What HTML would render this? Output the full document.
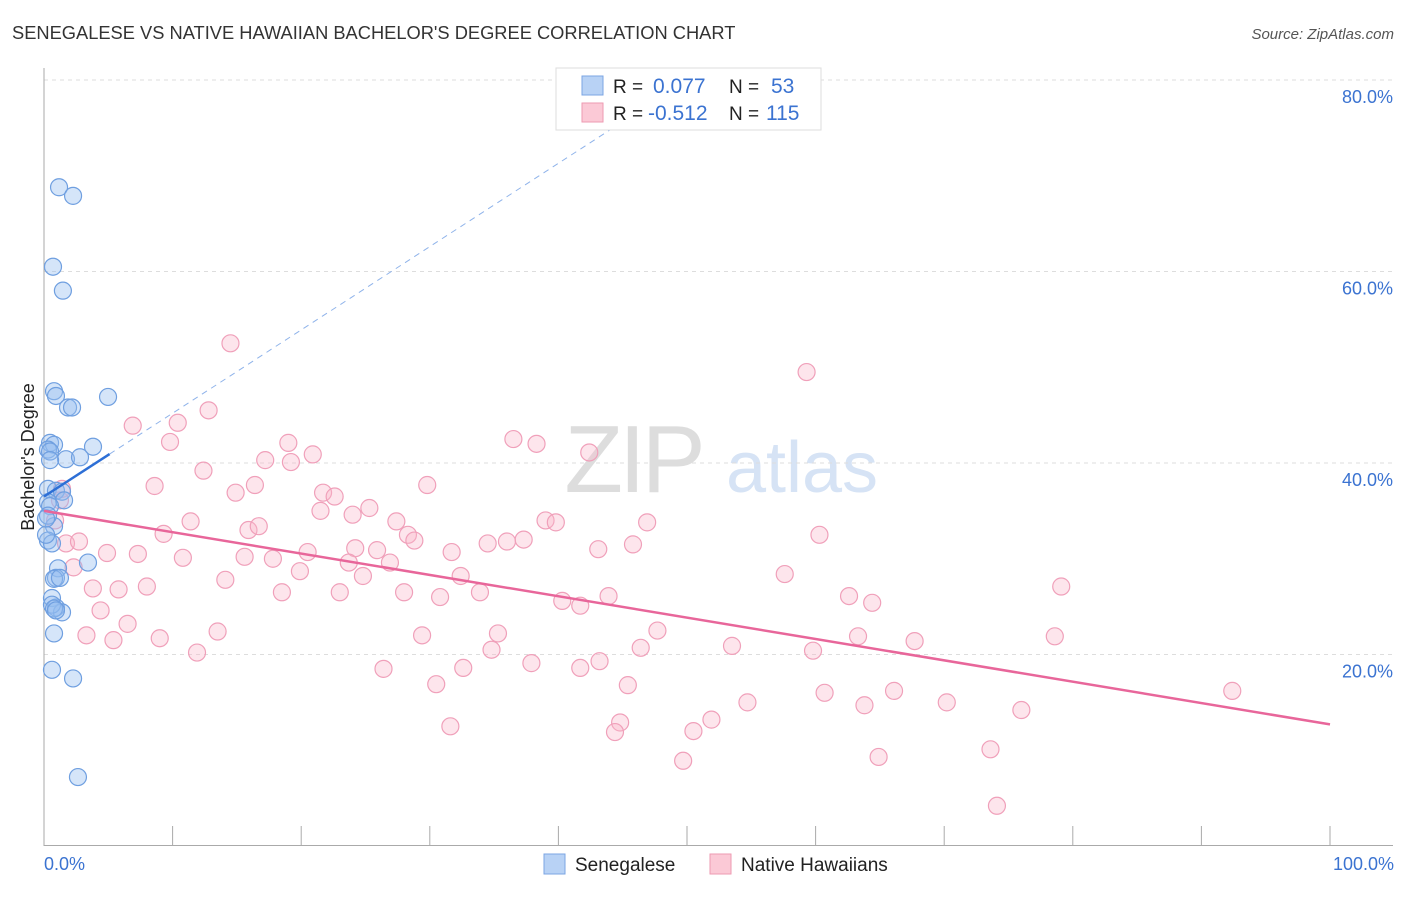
<!DOCTYPE html>
<html><head><meta charset="utf-8"><style>
body{margin:0;background:#fff;font-family:"Liberation Sans",sans-serif;}
svg text{font-family:"Liberation Sans",sans-serif;}
</style></head><body>
<svg id="c" width="1406" height="892" viewBox="0 0 1406 892" xmlns="http://www.w3.org/2000/svg">
<text x="12" y="39" font-size="18.3" fill="#333">SENEGALESE VS NATIVE HAWAIIAN BACHELOR'S DEGREE CORRELATION CHART</text>
<text x="1394" y="39" font-size="15" fill="#555" font-style="italic" text-anchor="end">Source: ZipAtlas.com</text>
<g>
<text x="633" y="492" font-size="96" fill="#ddd" text-anchor="middle" font-family="Liberation Serif" letter-spacing="-4">ZIP</text>
<text x="802" y="492" font-size="72" fill="#d6e3f5" text-anchor="middle">atlas</text>
</g>
<g id="grid"></g>
<g id="axes"></g>
<g id="pts"></g>
<g id="lines"></g>
<text transform="translate(34,457) rotate(-90)" font-size="18" fill="#222" text-anchor="middle">Bachelor's Degree</text>
<text x="44" y="870" font-size="18" fill="#3b73d1">0.0%</text>
<text x="1394" y="870" font-size="18" fill="#3b73d1" text-anchor="end">100.0%</text>
<g>
<rect x="556" y="68" width="265" height="62" fill="#fff" stroke="#ddd"/>
<rect x="582" y="76" width="21" height="19" fill="#b8d2f5" stroke="#7ba5e3"/>
<rect x="582" y="103" width="21" height="19" fill="#fbc9d6" stroke="#ee9ab2"/>
<text x="613" y="93" font-size="19" fill="#222">R =</text><text x="653" y="93" font-size="21" fill="#3b73d1">0.077</text>
<text x="729" y="93" font-size="19" fill="#222">N =</text><text x="771" y="93" font-size="21" fill="#3b73d1">53</text>
<text x="613" y="120" font-size="19" fill="#222">R =</text><text x="648" y="120" font-size="21" fill="#3b73d1">-0.512</text>
<text x="729" y="120" font-size="19" fill="#222">N =</text><text x="766" y="120" font-size="21" fill="#3b73d1">115</text>
</g>
<g>
<rect x="544" y="854" width="21" height="20" fill="#b8d2f5" stroke="#7ba5e3"/>
<text x="575" y="871" font-size="19" fill="#222">Senegalese</text>
<rect x="710" y="854" width="21" height="20" fill="#fbc9d6" stroke="#ee9ab2"/>
<text x="741" y="871" font-size="19" fill="#222">Native Hawaiians</text>
</g>
</svg>
<script>
const yTicks=[20,40,60,80];
const yTickLabels=["20.0%","40.0%","60.0%","80.0%"];
const xTicks=[10,20,30,40,50,60,70,80,90,100];
const blueX=[1.17,2.26,0.70,1.47,0.78,0.93,1.87,2.18,4.98,0.47,0.78,3.81,0.31,0.47,1.71,2.80,0.31,0.93,1.40,1.56,0.31,0.47,0.78,0.31,0.31,0.62,3.42,1.09,0.93,0.78,1.24,0.62,0.93,1.40,0.62,0.78,0.93,0.78,0.62,2.26,2.64,0.16,0.47,0.16];
const blueY=[68.8,67.9,60.5,58.0,47.5,47.0,45.8,45.8,46.9,42.1,41.9,41.7,41.4,41.2,40.4,40.6,37.3,37.1,37.0,36.1,35.9,35.5,33.4,34.5,31.9,31.6,29.6,29.0,28.0,27.9,28.0,25.9,24.9,24.4,25.2,24.8,24.6,22.2,18.4,17.5,7.2,32.5,40.3,34.2];
const pinkX=[14.5,59.3,6.9,10.4,12.8,36.5,42.4,38.3,9.8,19.0,20.9,17.2,19.2,12.4,29.8,8.6,14.9,16.4,21.7,22.6,25.3,24.0,21.5,15.9,16.7,11.4,9.3,27.4,28.3,28.8,39.0,39.8,46.9,60.3,4.9,7.3,10.8,15.6,17.8,20.5,24.2,25.9,31.7,34.5,36.0,37.3,43.1,45.8,26.9,23.7,24.8,32.4,14.1,19.9,57.6,3.8,5.8,8.0,2.3,18.5,23.0,28.0,30.8,33.9,40.3,41.7,43.9,62.6,64.4,79.1,4.4,6.5,29.4,35.3,47.7,3.3,5.4,9.0,13.5,11.9,34.8,46.4,53.5,59.8,63.3,67.7,78.6,26.4,32.6,37.9,41.7,43.2,30.5,45.4,60.7,66.1,92.4,54.7,63.8,70.2,76.0,31.6,44.8,44.4,50.5,51.9,49.7,64.9,73.6,74.1,0.86,1.24,1.71,2.72,1.40];
const pinkY=[52.5,49.5,43.9,44.2,45.5,42.5,41.1,42.0,42.2,42.1,40.9,40.3,40.1,39.2,37.7,37.6,36.9,37.7,36.9,36.5,35.3,34.6,35.0,33.0,33.4,33.9,32.6,33.9,32.5,31.9,34.0,33.8,33.8,32.5,30.6,30.5,30.1,30.2,30.0,30.7,31.1,30.9,30.7,31.6,31.8,32.0,31.0,31.5,29.6,29.6,28.2,28.2,27.8,28.7,28.4,26.9,26.8,27.1,29.1,26.5,26.5,26.5,26.0,26.5,25.6,25.1,26.1,26.1,25.4,27.1,24.6,23.2,22.0,22.2,22.5,22.0,21.5,21.7,22.4,20.2,20.5,20.7,20.9,20.4,21.9,21.4,21.9,18.5,18.6,19.1,18.6,19.3,16.9,16.8,16.0,16.2,16.2,15.0,14.7,15.0,14.2,12.5,12.9,11.9,12.0,13.2,8.9,9.3,10.1,4.2,34.0,36.1,31.6,31.8,37.3];
const blueA=36.5, blueB=0.87, pinkA=35.0, pinkB=-0.223;
const NS='http://www.w3.org/2000/svg';
const X0=44,X1=1330,Y0=846,YPX=9.575;
function sx(v){return X0+(X1-X0)*v/100;}
function sy(v){return Y0-v*YPX;}
function mk(tag,attrs,parent){const e=document.createElementNS(NS,tag);for(const k in attrs)e.setAttribute(k,attrs[k]);parent.appendChild(e);return e;}
const grid=document.getElementById('grid'),axes=document.getElementById('axes'),pts=document.getElementById('pts'),lines=document.getElementById('lines');
yTicks.forEach((t,i)=>{
 const g=mk('line',{x1:44,x2:1393,y1:sy(t),y2:sy(t),stroke:'#ddd','stroke-dasharray':'4,4'},grid);
 
 
 const l=mk('text',{x:1393,y:sy(t)+23,'font-size':18,fill:'#3b73d1','text-anchor':'end'},grid);
 l.textContent=yTickLabels[i];
 
 
});
const ya=mk('line',{x1:44,x2:44,y1:68,y2:846,stroke:'#aaa'},axes);


const xa=mk('line',{x1:44,x2:1393,y1:845.5,y2:845.5,stroke:'#aaa'},axes);


xTicks.forEach(t=>{
 const k=mk('line',{x1:sx(t),x2:sx(t),y1:826,y2:846,stroke:'#aaa'},axes);
 
 
});
pinkX.forEach((x,i)=>{
 const c=mk('circle',{cx:sx(x),cy:sy(pinkY[i]),r:8.5,fill:'rgba(248,180,200,0.35)',stroke:'#f0a0ba','stroke-width':1.2},pts);
 
 
});
blueX.forEach((x,i)=>{
 const c=mk('circle',{cx:sx(x),cy:sy(blueY[i]),r:8.5,fill:'rgba(150,190,240,0.4)',stroke:'#6f9fe0','stroke-width':1.2},pts);
 
 
});
const bEnd=5.1;
const bl=mk('line',{x1:sx(0),y1:sy(blueA),x2:sx(bEnd),y2:sy(blueA+blueB*bEnd),stroke:'#2d6fd6','stroke-width':2.5},lines);


const xTop=(81.5-blueA)/blueB;
const bd=mk('line',{x1:sx(bEnd),y1:sy(blueA+blueB*bEnd),x2:sx(xTop),y2:sy(81.5),stroke:'#8fb3ea','stroke-width':1,'stroke-dasharray':'6,5'},lines);


const pl=mk('line',{x1:sx(0),y1:sy(pinkA),x2:sx(100),y2:sy(pinkA+pinkB*100),stroke:'#e8669a','stroke-width':2.5},lines);


</script>
</body></html>
